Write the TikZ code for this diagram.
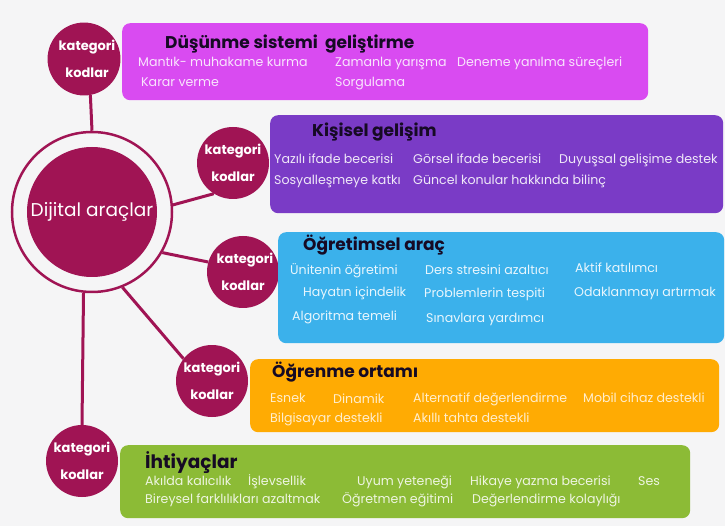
\documentclass[tikz,border=0pt]{standalone}
\usepackage{fontspec}
\setmainfont{Poppins}
\definecolor{bg}{HTML}{F5F5F6}
\definecolor{rasp}{HTML}{A01454}
\definecolor{cA}{HTML}{D94BF1}
\definecolor{cB}{HTML}{7A3BC6}
\definecolor{cC}{HTML}{3BB1EB}
\definecolor{cD}{HTML}{FFAB03}
\definecolor{cE}{HTML}{8CBB36}
\definecolor{ttlc}{HTML}{160A24}
\begin{document}
\begin{tikzpicture}[x=1pt,y=-1pt,
  boxnode/.style={rounded corners=8pt, inner sep=0pt, anchor=north west},
  kat/.style={circle, fill=rasp, minimum size=72pt, inner sep=0pt, text=white,
    font=\fontsize{13}{27}\selectfont\bfseries, align=center},
  link/.style={draw=rasp, line width=3pt},
  ttl/.style={anchor=base west, text=ttlc, font=\fontsize{17}{20}\selectfont\bfseries, inner sep=0pt},
  itm/.style={anchor=base west, font=\fontsize{12.6}{14}\selectfont, inner sep=0pt},
]
\fill[bg] (0,0) rectangle (725,526);
\useasboundingbox (0,0) rectangle (725,526);

% central node
\node[circle, draw=rasp, line width=2.5pt, fill=bg, minimum size=160pt, inner sep=0pt] (main) at (92,212) {};
\node[circle, fill=rasp, minimum size=130pt, inner sep=0pt, text=white,
  font=\fontsize{18.5}{20}\selectfont] (core) at (92,212) {Dijital araçlar};

% category circles
\node[kat] (k1) at (84,59) {\hspace*{6pt}kategori\\\hspace*{6pt}kodlar};
\node[kat] (k2) at (233,163) {kategori\\kodlar};
\node[kat] (k3) at (243,272) {\hspace*{4pt}kategori\\kodlar};
\node[kat] (k4) at (212,381) {kategori\\kodlar};
\node[kat] (k5) at (82,461) {kategori\\kodlar};

% connectors
\draw[link] (k1.-80) -- (main.north);
\draw[link] (main.5) -- (k2.-122);
\draw[link] (main.-30) -- (k3.164);
\draw[link] (main.-68) -- (k4.142);
\draw[link] (main.-96) -- (k5.north);

% boxes
\node[boxnode, fill=cA, minimum width=526pt, minimum height=77pt] (bA) at (122,23) {};
\node[boxnode, fill=cB, minimum width=453pt, minimum height=98pt] (bB) at (270,115) {};
\node[boxnode, fill=cC, minimum width=446pt, minimum height=111pt] (bC) at (278,232) {};
\node[boxnode, fill=cD, minimum width=469pt, minimum height=73pt] (bD) at (250,359) {};
\node[boxnode, fill=cE, minimum width=570pt, minimum height=73pt] (bE) at (120,445) {};

% box A
\begin{scope}[every node/.append style={text=white!85!cA}]
\node[ttl] (tA) at (165,49) {Düşünme sistemi\ \ geliştirme};
\node[itm] (a1) at (138,67) {Mantık- muhakame kurma};
\node[itm] (a2) at (335,67) {Zamanla yarışma};
\node[itm] (a3) at (457,67) {Deneme yanılma süreçleri};
\node[itm] (a4) at (141,87) {Karar verme};
\node[itm] (a5) at (335,87) {Sorgulama};
\end{scope}
% box B
\begin{scope}[every node/.append style={text=white!88!cB}]
\node[ttl] (tB) at (312,137) {Kişisel gelişim};
\node[itm] (b1) at (274,164) {Yazılı ifade becerisi};
\node[itm] (b2) at (413,164) {Görsel ifade becerisi};
\node[itm] (b3) at (559,164) {Duyuşsal gelişime destek};
\node[itm] (b4) at (274,185) {Sosyalleşmeye katkı};
\node[itm] (b5) at (413,185) {Güncel konular hakkında bilinç};
\end{scope}
% box C
\begin{scope}[every node/.append style={text=white!88!cC}]
\node[ttl] (tC) at (303,251) {Öğretimsel araç};
\node[itm] (c1) at (290,275) {Ünitenin öğretimi};
\node[itm] (c2) at (425,275) {Ders stresini azaltıcı};
\node[itm] (c3) at (575,273) {Aktif katılımcı};
\node[itm] (c4) at (303,297) {Hayatın içindelik};
\node[itm] (c5) at (424,298) {Problemlerin tespiti};
\node[itm] (c6) at (574,297) {Odaklanmayı artırmak};
\node[itm] (c7) at (292,321) {Algoritma temeli};
\node[itm] (c8) at (426,323) {Sınavlara yardımcı};
\end{scope}
% box D
\begin{scope}[every node/.append style={text=white!80!cD}]
\node[ttl] (tD) at (272,377) {Öğrenme ortamı};
\node[itm] (d1) at (270,402) {Esnek};
\node[itm] (d2) at (333,403) {Dinamik};
\node[itm] (d3) at (413,402) {Alternatif değerlendirme};
\node[itm] (d4) at (583,402) {Mobil cihaz destekli};
\node[itm] (d5) at (270,422) {Bilgisayar destekli};
\node[itm] (d6) at (413,422) {Akıllı tahta destekli};
\end{scope}
% box E
\begin{scope}[every node/.append style={text=white!85!cE}]
\node[ttl, font=\fontsize{18.5}{20}\selectfont\bfseries] (tE) at (145,468) {İhtiyaçlar};
\node[itm] (e1) at (145,485) {Akılda kalıcılık};
\node[itm] (e2) at (248,485) {İşlevsellik};
\node[itm] (e3) at (357,485) {Uyum yeteneği};
\node[itm] (e4) at (470,485) {Hikaye yazma becerisi};
\node[itm] (e5) at (638,485) {Ses};
\node[itm] (e6) at (145,503) {Bireysel farklılıkları azaltmak};
\node[itm] (e7) at (342,503) {Öğretmen eğitimi};
\node[itm] (e8) at (472,503) {Değerlendirme kolaylığı};
\end{scope}
\end{tikzpicture}
\end{document}
